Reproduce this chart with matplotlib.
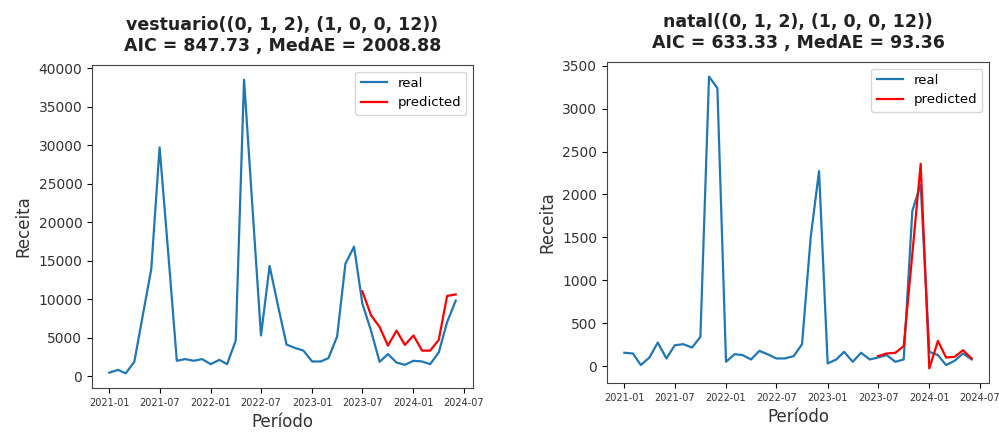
import matplotlib
matplotlib.use('Agg')
import matplotlib.pyplot as plt
import matplotlib.dates as mdates
import pandas as pd

months = pd.date_range('2021-01-01', periods=42, freq='MS')
pred_months = months[30:]

vestuario_real = [440, 800, 350, 1850, 7800, 13900, 29700, 16000, 1980, 2200,
                  1980, 2200, 1540, 2100, 1540, 4600, 38500, 21500, 5270, 14300,
                  9000, 4080, 3640, 3300, 1890, 1890, 2330, 5140, 14600, 16800,
                  9400, 5900, 1840, 2850, 1750, 1450, 1980, 1890, 1540, 3070,
                  7000, 9800]
vestuario_pred = [11000, 7900, 6370, 3950, 5900, 4040, 5270, 3300, 3300, 4700,
                  10400, 10600]

natal_real = [155, 147, 12, 100, 274, 89, 243, 255, 216, 340,
              3373, 3238, 50, 139, 128, 77, 178, 135, 89, 89,
              116, 255, 1500, 2272, 31, 77, 166, 50, 155, 77,
              100, 128, 50, 77, 1808, 2117, 166, 128, 12, 62,
              147, 77]
natal_pred = [116, 147, 155, 232, 1306, 2357, -27, 294, 100, 108, 185, 89]

titles = ['vestuario((0, 1, 2), (1, 0, 0, 12))\nAIC = 847.73 , MedAE = 2008.88',
          'natal((0, 1, 2), (1, 0, 0, 12))\nAIC = 633.33 , MedAE = 93.36']

fig = plt.figure(figsize=(9.99, 4.33), dpi=100)
ax1 = fig.add_axes([0.0921, 0.1039, 0.3814, 0.746])
ax2 = fig.add_axes([0.6076, 0.1155, 0.3824, 0.7413])

series = [(ax1, vestuario_real, vestuario_pred, titles[0]),
          (ax2, natal_real, natal_pred, titles[1])]

for ax, real, pred, title in series:
    ax.plot(months, real, color='tab:blue', lw=1.6, label='real')
    ax.plot(pred_months, pred, color='red', lw=1.6, label='predicted')
    ax.set_title(title, fontsize=12.5, fontweight='bold', color='#222222', pad=10)
    ax.set_xlabel('Período', fontsize=12, color='#333333')
    ax.set_ylabel('Receita', fontsize=12, color='#333333')
    ax.xaxis.set_major_locator(mdates.MonthLocator(bymonth=[1, 7]))
    ax.xaxis.set_major_formatter(mdates.DateFormatter('%Y-%m'))
    ax.tick_params(axis='x', labelsize=7, labelcolor='#333333')
    ax.tick_params(axis='y', labelsize=10, labelcolor='#333333')
    for sp in ax.spines.values():
        sp.set_color('#444444')
    ax.legend(loc='upper right', fontsize=9.5)

fig.savefig('out.png', dpi=100)
